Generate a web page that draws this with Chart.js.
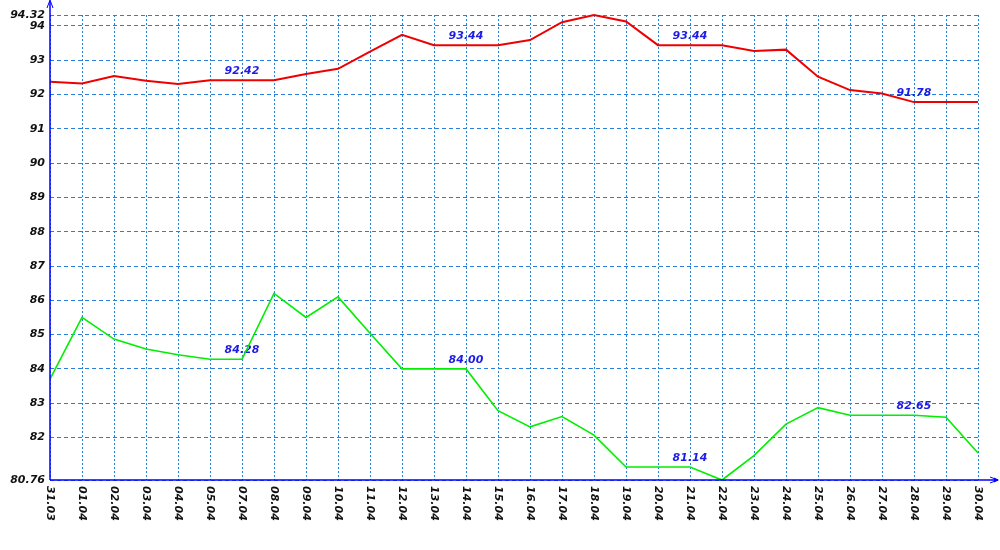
<!DOCTYPE html>
<html>
<head>
<meta charset="utf-8">
<script src="https://cdn.jsdelivr.net/npm/chart.js@4/dist/chart.umd.min.js"></script>
<style>
    body { margin: 0; background: #fff; }
    canvas { display: block; }
</style>
</head>
<body>
<canvas id="myChart" width="1000" height="550"></canvas>
<script>
// dates on the x axis (06.04 is missing in the source)
var labels = ["31.03", "01.04", "02.04", "03.04", "04.04", "05.04", "07.04", "08.04", "09.04", "10.04",
    "11.04", "12.04", "13.04", "14.04", "15.04", "16.04", "17.04", "18.04", "19.04", "20.04",
    "21.04", "22.04", "23.04", "24.04", "25.04", "26.04", "27.04", "28.04", "29.04", "30.04"];

// upper series (red)
var redValues = [92.37, 92.32, 92.54, 92.40, 92.31, 92.42, 92.42, 92.42, 92.60, 92.75,
    93.25, 93.74, 93.44, 93.44, 93.44, 93.59, 94.11, 94.32, 94.13, 93.44,
    93.44, 93.44, 93.27, 93.31, 92.52, 92.13, 92.03, 91.78, 91.78, 91.78];

// lower series (green)
var greenValues = [83.70, 85.50, 84.87, 84.58, 84.41, 84.28, 84.28, 86.20, 85.50, 86.10,
    85.04, 84.00, 84.00, 84.00, 82.78, 82.31, 82.61, 82.07, 81.14, 81.14,
    81.14, 80.76, 81.47, 82.39, 82.87, 82.65, 82.65, 82.65, 82.59, 81.55];

// y tick values
var yTicks = [80.76, 82, 83, 84, 85, 86, 87, 88, 89, 90, 91, 92, 93, 94, 94.32];

// points that carry a value label
var labelIdx = [6, 13, 20, 27];

var fontFamily = "'DejaVu Sans', Verdana, sans-serif";
var gridColor = '#2b7fd9';
var axisColor = '#0000ff';

var overlay = {
    id: 'overlay',
    beforeDatasetsDraw: function (chart) {
        var c = chart.ctx;
        var x = chart.scales.x, y = chart.scales.y;
        c.save();
        c.font = 'italic bold 11px ' + fontFamily;
        c.fillStyle = '#1c1ce6';
        c.textAlign = 'center';
        c.textBaseline = 'middle';
        labelIdx.forEach(function (i) {
            var px = x.getPixelForValue(i);
            c.fillText(redValues[i].toFixed(2), px, y.getPixelForValue(redValues[i]) - 9);
            c.fillText(greenValues[i].toFixed(2), px, y.getPixelForValue(greenValues[i]) - 9);
        });
        c.restore();
    },
    afterDatasetsDraw: function (chart) {
        var c = chart.ctx;
        var area = chart.chartArea;
        var x = chart.scales.x;
        c.save();
        // axes
        c.strokeStyle = axisColor;
        c.fillStyle = axisColor;
        c.lineWidth = 1.5;
        c.beginPath();
        c.moveTo(area.left, area.bottom);
        c.lineTo(area.left, 1);
        c.moveTo(area.left, area.bottom);
        c.lineTo(996, area.bottom);
        c.stroke();
        c.lineWidth = 1;
        c.beginPath();
        c.moveTo(area.left - 3, 8);
        c.lineTo(area.left, 0);
        c.lineTo(area.left + 3, 8);
        c.moveTo(990, area.bottom - 3);
        c.lineTo(998, area.bottom);
        c.lineTo(990, area.bottom + 3);
        c.stroke();
        c.beginPath();
        c.moveTo(999, area.bottom);
        c.lineTo(994, area.bottom - 2.5);
        c.lineTo(994, area.bottom + 2.5);
        c.closePath();
        c.fill();

        // rotated date labels
        c.font = 'italic bold 11px ' + fontFamily;
        c.fillStyle = '#111';
        c.textAlign = 'left';
        c.textBaseline = 'middle';
        labels.forEach(function (lbl, i) {
            c.save();
            c.translate(x.getPixelForValue(i), area.bottom + 6);
            c.rotate(Math.PI / 2);
            c.fillText(lbl, 0, 0);
            c.restore();
        });
        c.restore();
    }
};

var ctx = document.getElementById('myChart').getContext('2d');
new Chart(ctx, {
    type: 'line',
    data: {
        labels: labels,
        datasets: [{
                data: redValues,
                borderColor: '#ee0000',
                borderWidth: 2,
                pointRadius: 0,
                tension: 0,
                clip: false
            },
            {
                data: greenValues,
                borderColor: '#00ee00',
                borderWidth: 1.6,
                pointRadius: 0,
                tension: 0,
                clip: false
            }]
    },
    options: {
        responsive: false,
        animation: false,
        events: [],
        layout: {padding: {top: 15, right: 22, bottom: 0, left: 0}},
        plugins: {legend: {display: false}, tooltip: {enabled: false}},
        scales: {
            x: {
                offset: false,
                afterFit: function (s) { s.height = 70; },
                ticks: {display: false},
                grid: {color: gridColor, drawTicks: false, offset: false},
                border: {display: false, dash: [2, 2]}
            },
            y: {
                min: 80.76,
                max: 94.32,
                afterFit: function (s) { s.width = 50; },
                afterBuildTicks: function (s) {
                    s.ticks = yTicks.map(function (v) { return {value: v}; });
                },
                ticks: {
                    color: '#111',
                    padding: 5,
                    font: {family: fontFamily, size: 11, weight: 'bold', style: 'italic'},
                    callback: function (v) {
                        return Number.isInteger(v) ? String(v) : v.toFixed(2);
                    }
                },
                grid: {color: gridColor, drawTicks: false},
                border: {display: false, dash: [4, 3]}
            }
        }
    },
    plugins: [overlay]
});
</script>
</body>
</html>
